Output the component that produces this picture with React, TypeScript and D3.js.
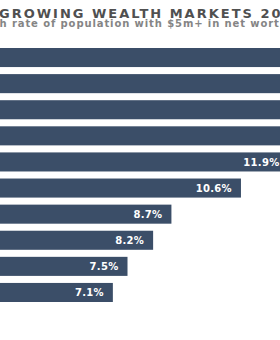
import * as d3 from "d3";

// visible part of the chart is a crop: country names sit off to the left
const categories = ["Market A", "Market B", "Market C", "Market D", "Market E", "Market F", "Market G", "Market H", "Market I", "Market J"];
const growth = [16.4, 15.2, 14.1, 13.3, 11.9, 10.6, 8.7, 8.2, 7.5, 7.1];
const valueLabels = ["16.4%", "15.2%", "14.1%", "13.3%", "11.9%", "10.6%", "8.7%", "8.2%", "7.5%", "7.1%"];

const titleLead = "FASTEST ";
const titleText = "GROWING WEALTH MARKETS 2017";
const subtitleText = "Growth rate of population with $5m+ in net worth";

const width = 280;
const height = 340;
const barColor = "#3b4e68";

export default function App() {
    const x = d3.scaleLinear().domain([0, 10]).range([-147, 219]);
    const y = d3.scaleBand<string>().domain(categories).range([48, 302]).paddingInner(0.27).paddingOuter(0);

    return (
        <svg
            width={width}
            height={height}
            style={{ position: "absolute", left: 0, top: 0, background: "#fff" }}
            fontFamily="DejaVu Sans, sans-serif"
        >
            <text x={-2} y={17.5} textAnchor="end" fontSize={13} fontWeight="bold" letterSpacing={2} fill="#505050">
                {titleLead}
            </text>
            <text x={-1} y={17.5} fontSize={13} fontWeight="bold" letterSpacing={2} fill="#505050">
                {titleText}
            </text>
            <text x={-39} y={26.5} fontSize={10} fontWeight="bold" letterSpacing={0.9} fill="#858585">
                {subtitleText}
            </text>

            {categories.map((c, i) => (
                <g key={c}>
                    <rect x={x(0)} y={y(c)} width={x(growth[i]) - x(0)} height={y.bandwidth()} fill={barColor} />
                    <text
                        x={x(0) - 6}
                        y={(y(c) || 0) + y.bandwidth() / 2}
                        dy="0.35em"
                        textAnchor="end"
                        fontSize={10}
                        fill="#555"
                    >
                        {c}
                    </text>
                    <text
                        x={x(growth[i]) - 9}
                        y={(y(c) || 0) + y.bandwidth() / 2}
                        dy="0.36em"
                        textAnchor="end"
                        fontSize={10}
                        fontWeight="bold"
                        letterSpacing={0.3}
                        fill="#fff"
                    >
                        {valueLabels[i]}
                    </text>
                </g>
            ))}
        </svg>
    );
}
